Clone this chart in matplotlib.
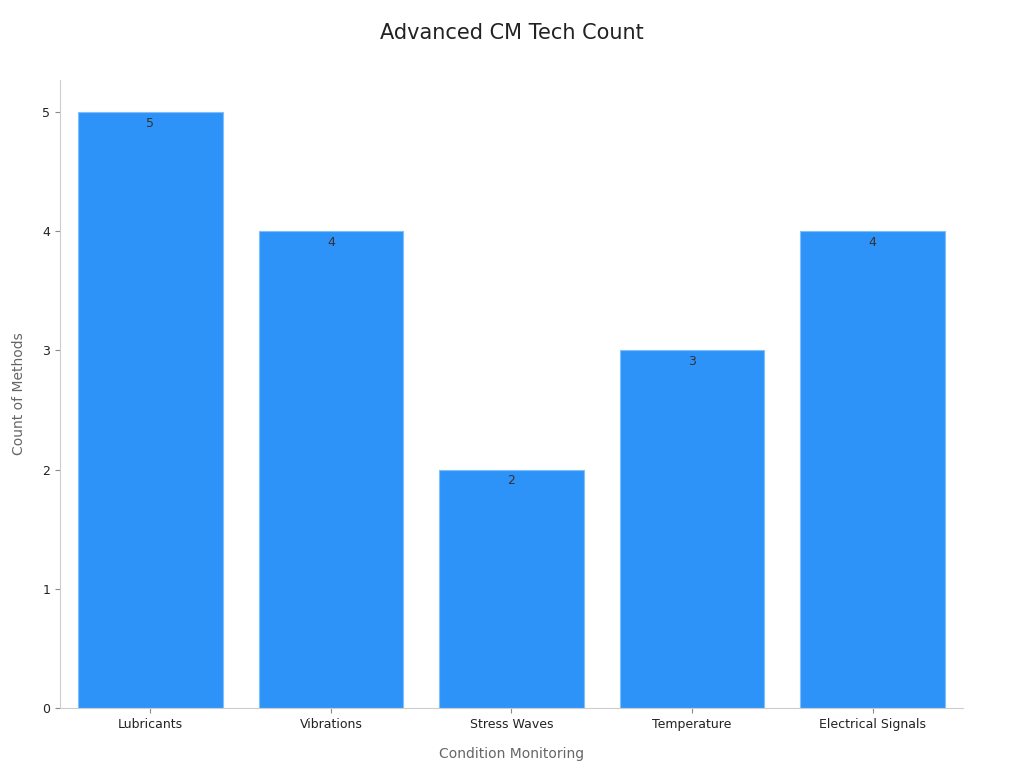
import matplotlib.pyplot as plt

categories = ['Lubricants', 'Vibrations', 'Stress Waves', 'Temperature', 'Electrical Signals']
counts = [5, 4, 2, 3, 4]

fig = plt.figure(figsize=(10.24, 7.68), dpi=100)
ax = fig.add_axes([0.0586, 0.078, 0.8818, 0.818])

bars = ax.bar(range(len(categories)), counts, width=0.8, color='#2E93F8', edgecolor='#7FBFFB', linewidth=0.8)
for i, v in enumerate(counts):
    ax.text(i, v - 0.04, str(v), ha='center', va='top', fontsize=9, color='#333333')

ax.set_xlim(-0.5, 4.5)
ax.set_ylim(0, 5.27)
ax.set_xticks(range(len(categories)))
ax.set_xticklabels(categories, fontsize=9, color='#222222')
ax.set_yticks(range(6))
ax.tick_params(axis='y', labelsize=9, colors='#222222')
ax.tick_params(axis='both', color='#888888')
for s in ['top', 'right']:
    ax.spines[s].set_visible(False)
for s in ['left', 'bottom']:
    ax.spines[s].set_color('#cccccc')

ax.set_xlabel('Condition Monitoring', fontsize=10, color='#666666', labelpad=12)
ax.set_ylabel('Count of Methods', fontsize=10, color='#666666', labelpad=12)
fig.suptitle('Advanced CM Tech Count', fontsize=15, color='#222222', y=0.97)

fig.savefig('out.png', dpi=100)
